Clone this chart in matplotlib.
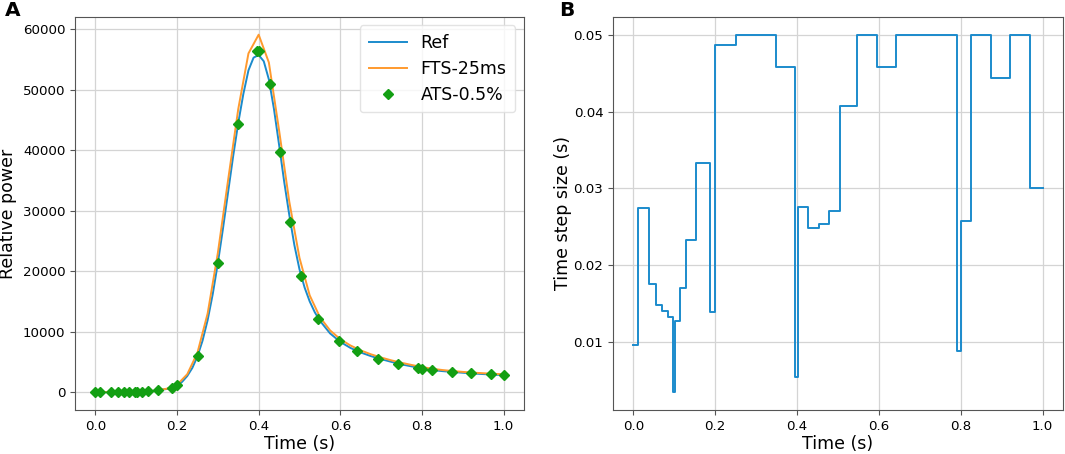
import numpy as np
import matplotlib
matplotlib.use("Agg")
import matplotlib.pyplot as plt

# ---- data ---- #

# reference solution (fine)
ref_t = [0.0, 0.025, 0.05, 0.075, 0.1, 0.125, 0.15, 0.175, 0.2, 0.2125, 0.225, 0.2375,
         0.25, 0.2625, 0.275, 0.2875, 0.3, 0.3125, 0.325, 0.3375, 0.35, 0.3625, 0.375,
         0.3875, 0.4, 0.4125, 0.425, 0.4375, 0.45, 0.4625, 0.475, 0.4875, 0.5, 0.5125,
         0.525, 0.5375, 0.55, 0.575, 0.6, 0.625, 0.65, 0.675, 0.7, 0.725, 0.75, 0.775,
         0.8, 0.825, 0.85, 0.875, 0.9, 0.925, 0.95, 0.975, 1.0]
ref_p = [0, 0, 0, 10, 30, 100, 250, 520, 1050, 1700, 2650, 4000,
         5900, 8500, 11900, 16200, 21300, 27000, 33000, 39000, 44500, 49300, 53200,
         55300, 55740, 54700, 51700, 46800, 40900, 34800, 29300, 24300, 20300, 17300,
         15000, 13200, 11800, 9700, 8300, 7300, 6550, 5950, 5450, 5000, 4580, 4250,
         3900, 3640, 3470, 3330, 3200, 3080, 2980, 2890, 2810]

# fixed time step 25 ms
fts_t = [0.0, 0.025, 0.05, 0.075, 0.1, 0.125, 0.15, 0.175, 0.2, 0.225, 0.25, 0.275,
         0.3, 0.325, 0.35, 0.375, 0.4, 0.425, 0.45, 0.475, 0.5, 0.525, 0.55, 0.575,
         0.6, 0.625, 0.65, 0.675, 0.7, 0.725, 0.75, 0.775, 0.8, 0.825, 0.85, 0.875,
         0.9, 0.925, 0.95, 0.975, 1.0]
fts_p = [0, 0, 0, 10, 35, 110, 270, 560, 1200, 2950, 6500, 13000,
         23000, 35000, 46800, 56000, 59100, 54500, 43300, 31500, 22200, 16000, 12400, 10200,
         8750, 7700, 6900, 6250, 5720, 5250, 4850, 4480, 4150, 3860, 3650, 3480,
         3340, 3220, 3120, 3030, 2950]

# adaptive time step 0.5 %
ats_t = [0.0, 0.0105, 0.0376, 0.0543, 0.0702, 0.0835, 0.0977, 0.1012, 0.1145, 0.1287,
         0.1529, 0.1871, 0.1988, 0.2506, 0.3006, 0.3492, 0.3952, 0.4018, 0.4277, 0.4528,
         0.4779, 0.5046, 0.5455, 0.5957, 0.6416, 0.6916, 0.7416, 0.7903, 0.7995, 0.8246,
         0.8739, 0.9206, 0.9691, 1.0]
ats_p = [0, 0, 0, 0, 0, 10, 20, 25, 50, 120,
         280, 700, 1100, 5950, 21400, 44340, 56400, 56460, 51010, 39760,
         28180, 19190, 12020, 8440, 6780, 5520, 4580, 3970, 3860, 3640,
         3360, 3200, 2980, 2810]
ats_dt = [0.0096, 0.0274, 0.0176, 0.0148, 0.0140, 0.0133, 0.0035, 0.0127, 0.0170, 0.0233,
          0.0333, 0.0139, 0.0487, 0.0500, 0.0500, 0.0458, 0.0054, 0.0276, 0.0249, 0.0254,
          0.0270, 0.0407, 0.0500, 0.0458, 0.0500, 0.0500, 0.0500, 0.0088, 0.0257, 0.0500,
          0.0443, 0.0500, 0.0301, 0.0301]

c_blue = "#1b8bcc"
c_orange = "#ff9a2e"
c_green = "#139f13"
grid_c = "#d4d4d4"
spine_c = "#555555"

fig = plt.figure(figsize=(10.65, 4.54), dpi=100)
ax1 = fig.add_axes([0.0704, 0.097, 0.4216, 0.866])
ax2 = fig.add_axes([0.5756, 0.097, 0.4225, 0.866])

# ---- panel A ---- #
ax1.plot(ref_t, ref_p, color=c_blue, lw=1.4, label="Ref")
ax1.plot(fts_t, fts_p, color=c_orange, lw=1.4, label="FTS-25ms")
ax1.plot(ats_t, ats_p, ls="none", marker="D", ms=4.8, color=c_green, label="ATS-0.5%")
ax1.set_xlabel("Time (s)", fontsize=12.5, labelpad=2)
ax1.set_ylabel("Relative power", fontsize=12.5)
ax1.yaxis.set_label_coords(-0.129, 0.5)
ax1.set_xticks([0.0, 0.2, 0.4, 0.6, 0.8, 1.0])
ax1.set_yticks([0, 10000, 20000, 30000, 40000, 50000, 60000])
leg = ax1.legend(loc="upper right", fontsize=12.5, handlelength=2.2, borderpad=0.5,
                 labelspacing=0.45, framealpha=0.8)
leg.get_frame().set_edgecolor("#dddddd")

# ---- panel B ---- #
ax2.step(ats_t, ats_dt, where="post", color=c_blue, lw=1.4)
ax2.set_xlabel("Time (s)", fontsize=12.5, labelpad=2)
ax2.set_ylabel("Time step size (s)", fontsize=12.5)
ax2.yaxis.set_label_coords(-0.091, 0.5)
ax2.set_xticks([0.0, 0.2, 0.4, 0.6, 0.8, 1.0])
ax2.set_yticks([0.01, 0.02, 0.03, 0.04, 0.05])

for ax in (ax1, ax2):
    ax.grid(True, color=grid_c, lw=0.9)
    ax.set_axisbelow(True)
    ax.tick_params(labelsize=9.6, color=spine_c, length=3.5)
    for s in ax.spines.values():
        s.set_color(spine_c)

fig.text(0.005, 0.977, "A", fontsize=14.5, fontweight="bold", va="center")
fig.text(0.525, 0.977, "B", fontsize=14.5, fontweight="bold", va="center")

fig.savefig("out.png", dpi=100)
